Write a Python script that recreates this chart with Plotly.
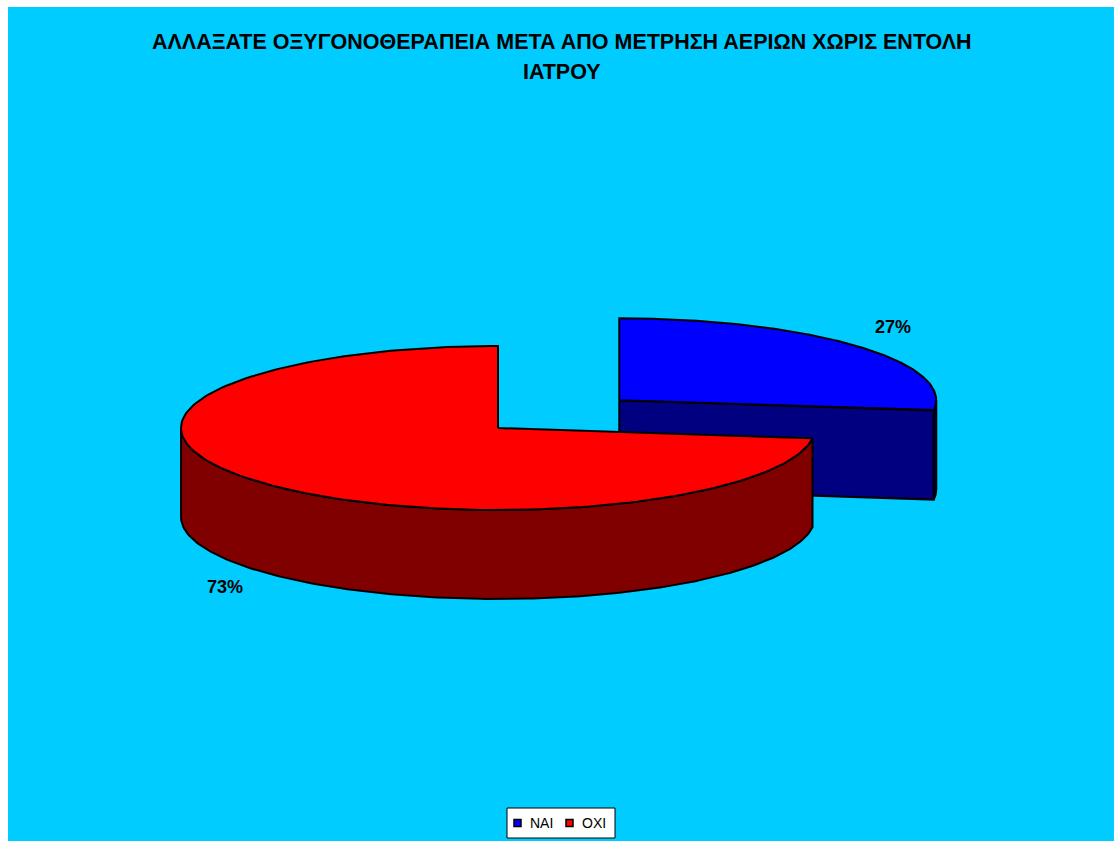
import numpy as np
import plotly.graph_objects as go

# Survey answers (percent)
labels = ["ΝΑΙ", "ΟΧΙ"]
values = [27, 73]
top_colors = ["#0000FF", "#FF0000"]
side_colors = ["#000080", "#800000"]
title_lines = ["ΑΛΛΑΞΑΤΕ ΟΞΥΓΟΝΟΘΕΡΑΠΕΙΑ ΜΕΤΑ ΑΠΟ ΜΕΤΡΗΣΗ ΑΕΡΙΩΝ ΧΩΡΙΣ ΕΝΤΟΛΗ", "ΙΑΤΡΟΥ"]

W, H = 1114, 841
BG = "#00CCFF"
FONT = "Liberation Sans, Arial"

# 3-D pie geometry (drawing units = pixels of the canvas)
cx, cy = 498, 428          # centre of the pie top
rx, ry = 317, 82           # ellipse radii of the tilted top face
depth = 89                 # thickness of the pie
explode = 0.51             # explosion of the first slice, fraction of radius
start_deg = 90.0           # first slice starts at 12 o'clock, goes clockwise


def pt(x0, y0, a_deg, f=1.0, dz=0.0):
    a = np.radians(a_deg)
    return x0 + f * rx * np.cos(a), y0 - f * ry * np.sin(a) + dz


def arc(x0, y0, a1, a2, dz=0.0, n=200):
    a = np.radians(np.linspace(a1, a2, n))
    return list(x0 + rx * np.cos(a)), list(y0 - ry * np.sin(a) + dz)


fig = go.Figure()
line = dict(color="black", width=2)

total = float(sum(values))
angles = []
a = start_deg
for v in values:
    span = 360.0 * v / total
    angles.append((a - span, a))  # slice spans [a-span, a] (clockwise)
    a -= span

label_pos = []
for i, (v, (a_lo, a_hi)) in enumerate(zip(values, angles)):
    mid = 0.5 * (a_lo + a_hi)
    ox, oy = cx, cy
    if i == 0:
        ox = cx + explode * rx * np.cos(np.radians(mid))
        oy = cy - explode * ry * np.sin(np.radians(mid))

    # radial cut face of the exploded slice, facing the viewer
    if i == 0 and np.sin(np.radians(a_lo)) <= 0:
        ex, ey = pt(ox, oy, a_lo)
        fig.add_trace(go.Scatter(
            x=[ox, ex, ex, ox, ox], y=[oy, ey, ey + depth, oy + depth, oy],
            fill="toself", fillcolor=side_colors[i], line=line,
            mode="lines", hoverinfo="skip", showlegend=False))

    # outer wall: only the front half (180..360 deg) is visible
    lo = a_lo % 360
    hi = a_hi % 360 if a_hi % 360 > lo else a_hi % 360 + 360
    s1, s2 = max(lo, 180), min(hi, 360)
    if s2 > s1:
        tx, ty = arc(ox, oy, s1, s2)
        bx, by = arc(ox, oy, s2, s1, dz=depth)
        fig.add_trace(go.Scatter(
            x=tx + bx + [tx[0]], y=ty + by + [ty[0]],
            fill="toself", fillcolor=side_colors[i], line=line,
            mode="lines", hoverinfo="skip", showlegend=False))

    # top face
    tx, ty = arc(ox, oy, a_lo, a_hi)
    fig.add_trace(go.Scatter(
        x=[ox] + tx + [ox], y=[oy] + ty + [oy],
        fill="toself", fillcolor=top_colors[i], line=line,
        mode="lines", hoverinfo="skip", showlegend=False))

    # data label outside the slice
    lower = np.sin(np.radians(mid)) < 0
    lx, ly = pt(ox, oy, mid, f=1.15, dz=depth + 8 if lower else -11)
    label_pos.append((lx, ly, f"{v}%"))

for lx, ly, txt in label_pos:
    fig.add_annotation(x=lx, y=ly, xref="x", yref="y", text=f"<b>{txt}</b>",
                       showarrow=False,
                       font=dict(family=FONT, size=18, color="black"))

# cyan chart area with thin white border at top and left
fig.add_shape(type="rect", xref="paper", yref="paper",
              x0=8 / W, x1=1, y0=0, y1=1 - 7 / H,
              fillcolor=BG, line=dict(width=0), layer="below")

# legend box with square keys
leg_x0, leg_x1, leg_y0, leg_y1 = 507, 615, 808, 838
key_x = [517.5, 569.5]
leg_y = 0.5 * (leg_y0 + leg_y1)
fig.add_shape(type="rect", xref="x", yref="y",
              x0=leg_x0, x1=leg_x1, y0=leg_y0, y1=leg_y1,
              fillcolor="white", line=dict(color="black", width=1),
              layer="below")
fig.add_trace(go.Scatter(
    x=key_x, y=[leg_y] * len(labels), mode="markers",
    marker=dict(symbol="square", size=7, color=top_colors,
                line=dict(color="black", width=1.5)),
    hoverinfo="skip", showlegend=False))
for kx, lab in zip(key_x, labels):
    fig.add_annotation(x=kx + 10, y=leg_y, xref="x", yref="y", text=lab,
                       showarrow=False, xanchor="left", yanchor="middle",
                       font=dict(family=FONT, size=14, color="black"))

title_y = [42, 72]
for t, yy in zip(title_lines, title_y):
    fig.add_annotation(x=562 / W, y=1 - yy / H, xref="paper", yref="paper",
                       xanchor="center", yanchor="middle",
                       text=f"<b>{t}</b>", showarrow=False,
                       font=dict(family=FONT, size=21.5, color="black"))

fig.update_layout(
    width=W, height=H,
    margin=dict(l=0, r=0, t=0, b=0),
    paper_bgcolor="white", plot_bgcolor="rgba(0,0,0,0)",
    xaxis=dict(range=[0, W], visible=False, fixedrange=True),
    yaxis=dict(range=[H, 0], visible=False, fixedrange=True),
    showlegend=False,
)

fig.write_html("out.html")
